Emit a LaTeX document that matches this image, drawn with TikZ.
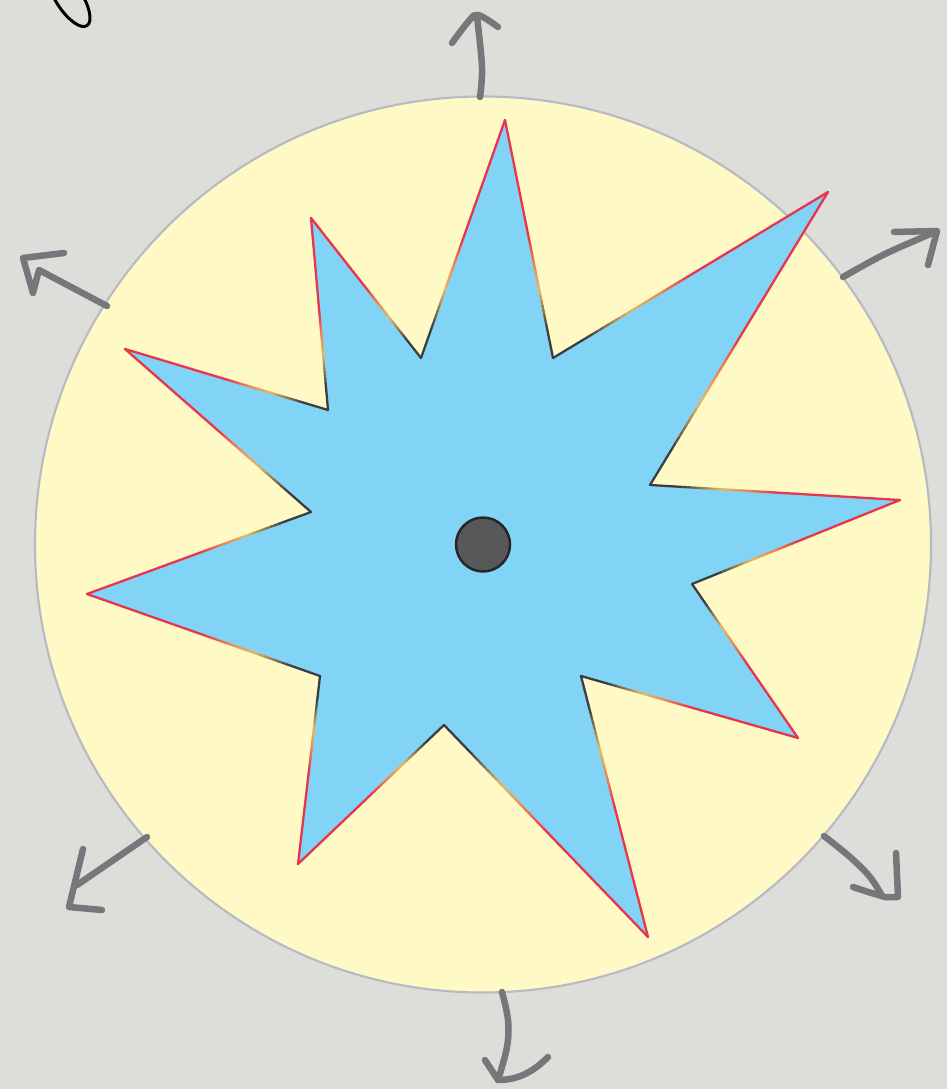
\documentclass[tikz,border=0pt]{standalone}
\usetikzlibrary{calc}
\definecolor{bg}{HTML}{DDDDD9}
\definecolor{disk}{HTML}{FFF9C6}
\definecolor{diskline}{HTML}{B6BAC2}
\definecolor{starfill}{HTML}{81D4F5}
\definecolor{sRed}{HTML}{E8344E}
\definecolor{sOrange}{HTML}{EE8A50}
\definecolor{sYellow}{HTML}{E6BA62}
\definecolor{sDark}{HTML}{3A3E42}
\definecolor{arrgray}{HTML}{77777B}
\definecolor{dotfill}{HTML}{58585B}
\newcommand{\gradedge}[2]{%
  \draw[draw=sRed] (#1) -- ($(#1)!0.5!(#2)$);
  \foreach \ga/\gb/\gca/\gcb in {0.50/0.62/sRed/sOrange,0.62/0.72/sOrange/sYellow,0.72/0.88/sYellow/sDark}{%
    \foreach \gk in {0,...,7}{%
      \pgfmathsetmacro\gta{\ga+(\gb-\ga)*\gk/8}%
      \pgfmathsetmacro\gtb{\ga+(\gb-\ga)*(\gk+1)/8}%
      \pgfmathtruncatemacro\gp{100-100*(\gk+0.5)/8}%
      \draw[draw=\gca!\gp!\gcb] ($(#1)!\gta!(#2)$) -- ($(#1)!\gtb!(#2)$);
    }%
  }%
  \draw[draw=sDark] ($(#1)!0.88!(#2)$) -- (#2);
}
\begin{document}
\begin{tikzpicture}[x=0.01cm,y=-0.01cm,
  arr/.style={draw=arrgray,line width=1.85pt,line cap=round,line join=round},
  edge/.style={line width=0.65pt,line cap=round}]
\useasboundingbox (0,0) rectangle (947,1089);
\fill[bg] (0,0) rectangle (947,1089);
\begin{scope}
\clip (0,0) rectangle (947,1089);
\draw[line width=0.85pt,black] (69,-2) ellipse[x radius=13,y radius=33,rotate=33];
\end{scope}
% disk
\coordinate (c) at (483,544.5);
\draw[fill=disk,draw=diskline,line width=0.6pt] (c) circle[radius=448];
% star vertices
\coordinate (o1) at (505,120); \coordinate (i1) at (553,358);
\coordinate (o2) at (828,192); \coordinate (i2) at (650,485);
\coordinate (o3) at (900,500); \coordinate (i3) at (692,584);
\coordinate (o4) at (798,738); \coordinate (i4) at (581,676);
\coordinate (o5) at (648,937); \coordinate (i5) at (444,725);
\coordinate (o6) at (298,864); \coordinate (i6) at (320,676);
\coordinate (o7) at (87,594);  \coordinate (i7) at (311,512);
\coordinate (o8) at (125,349); \coordinate (i8) at (328,410);
\coordinate (o9) at (311,218); \coordinate (i9) at (421,358);
\fill[starfill] (o1)--(i1)--(o2)--(i2)--(o3)--(i3)--(o4)--(i4)--(o5)--(i5)--(o6)--(i6)--(o7)--(i7)--(o8)--(i8)--(o9)--(i9)--cycle;
\begin{scope}[edge]
\gradedge{o1}{i1}\gradedge{o1}{i9}
\gradedge{o2}{i2}\gradedge{o2}{i1}
\gradedge{o3}{i3}\gradedge{o3}{i2}
\gradedge{o4}{i4}\gradedge{o4}{i3}
\gradedge{o5}{i5}\gradedge{o5}{i4}
\gradedge{o6}{i6}\gradedge{o6}{i5}
\gradedge{o7}{i7}\gradedge{o7}{i6}
\gradedge{o8}{i8}\gradedge{o8}{i7}
\gradedge{o9}{i9}\gradedge{o9}{i8}
\end{scope}
% centre dot
\node[circle,fill=dotfill,draw=black!85,line width=0.7pt,minimum size=54*0.01cm,inner sep=0pt] (dot) at (c) {};
% arrows
\draw[arr] plot[smooth,tension=0.6] coordinates {(480,97) (482,67) (477,17)};
\draw[arr] plot[smooth,tension=0.6] coordinates {(452,43) (468,22) (478,15) (498,27)};
\draw[arr] plot[smooth,tension=0.5] coordinates {(843,277) (885,254) (935,232)};
\draw[arr] (894,232) -- (937,231) -- (928,265);
\draw[arr] (64,253) -- (23,258) -- (33,293) -- (39,270) -- (107,306);
\draw[arr] plot[smooth,tension=0.6] coordinates {(824,836) (850,857) (870,877) (882,896)};
\draw[arr] (853,887) .. controls (868,892) .. (885,897) -- (898,897) -- (896,853);
\draw[arr] (147,837) -- (77,885);
\draw[arr] (83,849) -- (69,907) -- (102,910);
\draw[arr] plot[smooth,tension=0.6] coordinates {(502,992) (508,1020) (507,1047) (498,1080)};
\draw[arr] (485,1060) -- (498,1080) .. controls (520,1080) and (535,1070) .. (548,1057);
\end{tikzpicture}
\end{document}
